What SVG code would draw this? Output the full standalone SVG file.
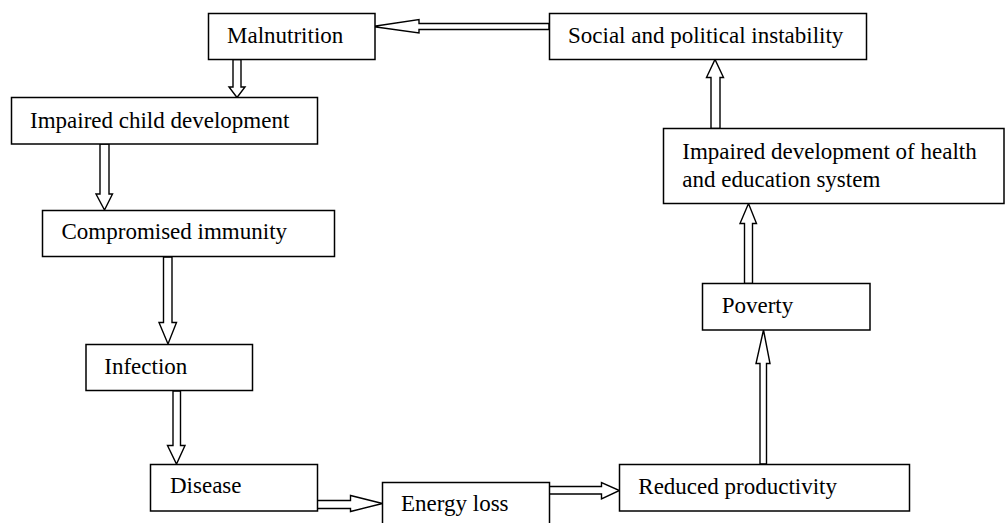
<svg xmlns="http://www.w3.org/2000/svg" width="1005" height="523" viewBox="0 0 1005 523">
<style>
.box{fill:#fff;stroke:#000;stroke-width:1.5}
.arr{fill:#fff;stroke:#000;stroke-width:1.4;stroke-linejoin:miter}
text{font-family:"Liberation Serif","Times New Roman",serif;font-size:23px;fill:#000}
</style>
<rect width="1005" height="523" fill="#fff"/>
<g id="connectors">
<polygon class="arr" points="549,23.5 419,23.5 419,19.5 372.5,26.5 419,33 419,29.5 549,29.5"/>
<polygon class="arr" points="233,59.5 233,87 229,87 237,97.5 245,87 241,87 241,59.5"/>
<polygon class="arr" points="100,144 100,194 96,194 104.5,210 112.5,194 109,194 109,144"/>
<polygon class="arr" points="163.5,257 163.5,322.5 159,322.5 168,344 176.5,322.5 172,322.5 172,257"/>
<polygon class="arr" points="173,391 173,445.5 167.5,445.5 176.5,464 185,445.5 180.5,445.5 180.5,391"/>
<polygon class="arr" points="317,500.5 350.5,500.5 350.5,495.5 382.5,503.5 350.5,511.5 350.5,508.5 317,508.5"/>
<polygon class="arr" points="549,486.5 601.5,486.5 601.5,482.5 619.5,490.5 601.5,499 601.5,494 549,494"/>
<polygon class="arr" points="760,464 760,363.5 756,363.5 763.5,330 770,363.5 766.5,363.5 766.5,464"/>
<polygon class="arr" points="744.5,283.5 744.5,223.5 740,223.5 748.5,203.5 756.5,223.5 752.5,223.5 752.5,283.5"/>
<polygon class="arr" points="711,128.5 711,77.5 706.5,77.5 715,59.5 723.5,77.5 720,77.5 720,128.5"/>
</g>
<g id="malnutrition"><rect class="box" x="208.5" y="13.5" width="166.5" height="46"/><text x="227" y="43">Malnutrition</text></g>
<g id="social"><rect class="box" x="549.5" y="13.5" width="317" height="46"/><text x="568" y="43.3">Social and political instability</text></g>
<g id="child"><rect class="box" x="11.5" y="97.5" width="306" height="46.5"/><text x="30" y="128">Impaired child development</text></g>
<g id="immunity"><rect class="box" x="42.5" y="210.5" width="292" height="46"/><text x="61.5" y="239">Compromised immunity</text></g>
<g id="infection"><rect class="box" x="86" y="344.5" width="166.5" height="46"/><text x="104.3" y="374">Infection</text></g>
<g id="disease"><rect class="box" x="150.5" y="464.5" width="167" height="46.5"/><text x="170" y="493.3">Disease</text></g>
<g id="energy"><rect class="box" x="382.5" y="482.5" width="167" height="50"/><text x="401" y="511.3">Energy loss</text></g>
<g id="productivity"><rect class="box" x="619.5" y="464.5" width="290" height="46.5"/><text x="638.3" y="494">Reduced productivity</text></g>
<g id="poverty"><rect class="box" x="702.5" y="283.5" width="167.5" height="46.5"/><text x="721.7" y="312.7">Poverty</text></g>
<g id="health"><rect class="box" x="663.5" y="128.5" width="340.5" height="75"/><text x="682.3" y="159.3">Impaired development of health</text><text x="682.3" y="187.3">and education system</text></g>
</svg>
